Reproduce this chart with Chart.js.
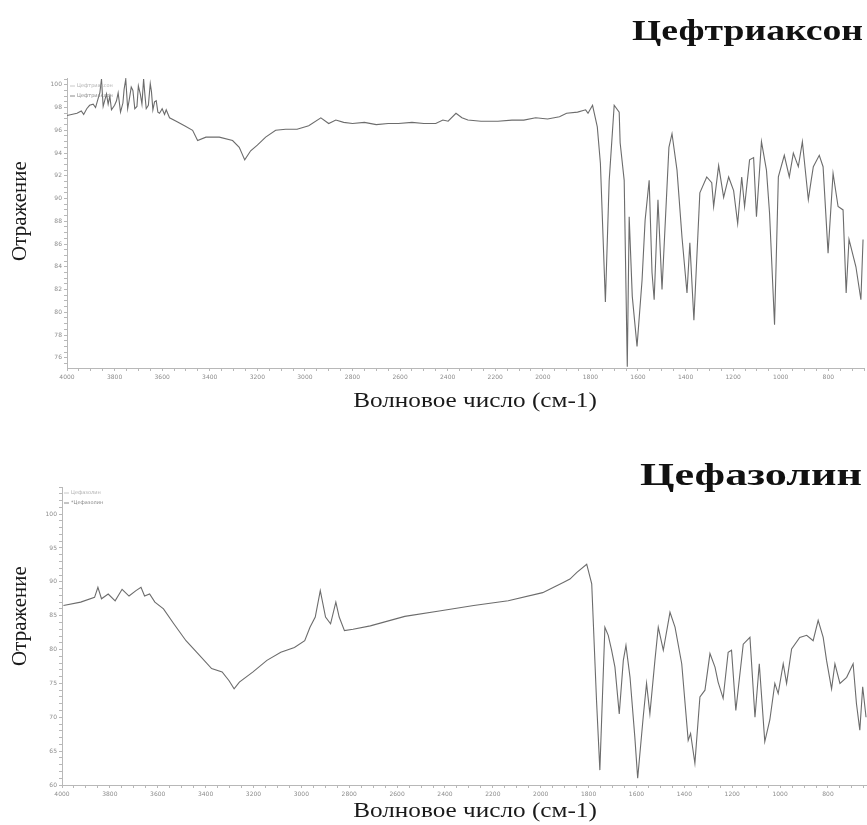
<!DOCTYPE html>
<html>
<head>
<meta charset="utf-8">
<script src="https://cdn.jsdelivr.net/npm/chart.js@4.4.1/dist/chart.umd.min.js"></script>
<style>
  body { margin: 0; background: #fff; width: 867px; height: 825px; overflow: hidden; position: relative; }
  .box { position: absolute; left: 0; width: 867px; }
</style>
</head>
<body>
<div class="box" style="top:0;height:412px"><canvas id="topChart" width="867" height="412"></canvas></div>
<div class="box" style="top:412px;height:413px"><canvas id="bottomChart" width="867" height="413"></canvas></div>
<script>
// ---- data ----
const xTickLabels = [4000, 3800, 3600, 3400, 3200, 3000, 2800, 2600, 2400, 2200, 2000, 1800, 1600, 1400, 1200, 1000, 800];
const ceftriaxoneTicks = [76, 78, 80, 82, 84, 86, 88, 90, 92, 94, 96, 98, 100];
const cefazolinTicks = [60, 65, 70, 75, 80, 85, 90, 95, 100];

const ceftriaxoneWn = [4000, 3958, 3940, 3930, 3917, 3905, 3890, 3880, 3869, 3862,
  3855, 3848, 3834, 3827, 3820, 3813, 3800, 3792, 3785, 3775,
  3765, 3760, 3753, 3745, 3739, 3730, 3723, 3715, 3706, 3700,
  3692, 3685, 3678, 3672, 3667, 3658, 3650, 3645, 3639, 3632,
  3625, 3618, 3611, 3600, 3590, 3583, 3569, 3541, 3506, 3472,
  3451, 3416, 3360, 3304, 3276, 3253, 3228, 3200, 3165, 3123,
  3081, 3033, 2984, 2933, 2900, 2870, 2837, 2800, 2750, 2700,
  2650, 2607, 2550, 2500, 2450, 2420, 2398, 2365, 2340, 2315,
  2260, 2189, 2130, 2080, 2030, 1980, 1930, 1900, 1854, 1820,
  1810, 1791,
  1771, 1758, 1737, 1721, 1700, 1679, 1675, 1658, 1645, 1637, 1624, 1604, 1583, 1570, 1553, 1541, 1532, 1516, 1499,
  1470, 1457, 1436, 1415, 1394, 1382, 1365, 1340, 1311, 1290, 1282, 1261, 1240, 1219, 1198, 1181, 1164, 1152, 1131,
  1114, 1102, 1081, 1060, 1047, 1026, 1010, 985, 964, 947, 926, 909, 884, 872, 863, 838, 822, 801, 780, 759, 738,
  725, 713, 684, 663, 654];
const ceftriaxoneR = [97.3, 97.5, 97.7, 97.4, 97.9, 98.2, 98.3, 98.0, 98.8, 99.3,
  100.5, 98.1, 99.2, 98.3, 99.0, 97.8, 98.2, 98.6, 99.3, 97.6,
  98.4, 99.6, 100.5, 97.9, 98.6, 99.8, 99.5, 97.9, 98.1, 99.9,
  99.2, 98.3, 100.5, 99.0, 97.9, 98.2, 100.1, 99.4, 97.8, 98.5,
  98.6, 97.6, 97.5, 97.9, 97.4, 97.8, 97.1, 96.8, 96.4, 96.0,
  95.1, 95.4, 95.4, 95.1, 94.5, 93.4, 94.2, 94.7, 95.4, 96.0,
  96.1, 96.1, 96.4, 97.1, 96.6, 96.9, 96.7, 96.6, 96.7, 96.5,
  96.6, 96.6, 96.7, 96.6, 96.6, 96.9, 96.8, 97.5, 97.1, 96.9,
  96.8, 96.8, 96.9, 96.9, 97.1, 97.0, 97.2, 97.5, 97.6, 97.8,
  97.5, 98.2,
  96.3, 93.1, 80.9, 91.6, 98.2, 97.6, 94.9, 91.6, 75.2, 88.4, 81.4, 77.0, 82.8, 88.1, 91.6, 83.5, 81.1, 89.9, 82.0,
  94.5, 95.7, 92.5, 86.6, 81.7, 86.1, 79.3, 90.5, 91.9, 91.4, 89.3, 92.9, 90.1, 91.9, 90.7, 87.8, 91.9, 89.3, 93.4,
  93.6, 88.4, 95.0, 92.5, 88.7, 78.9, 91.9, 93.8, 91.9, 94.0, 92.8, 95.0, 89.9, 91.6, 92.8, 93.8, 92.8, 85.2, 92.2,
  89.3, 89.0, 81.7, 86.4, 84.0, 81.1, 86.4];

const cefazolinWn = [3994, 3922, 3864, 3850, 3835, 3807, 3778, 3749, 3720, 3691, 3670, 3655, 3634, 3612, 3576, 3533,
  3482, 3432, 3375, 3331, 3302, 3281, 3259, 3202, 3144, 3086, 3029, 2986, 2964, 2942, 2921, 2899, 2878, 2856, 2842,
  2820, 2784, 2712, 2568, 2424, 2280, 2136, 1992, 1906, 1878, 1849, 1808, 1787, 1767, 1753, 1732, 1718, 1704, 1690,
  1672, 1655, 1644, 1627, 1607, 1595, 1572, 1558, 1544, 1523, 1509, 1488, 1460, 1439, 1411, 1384, 1374, 1356, 1335,
  1314, 1293, 1272, 1259, 1238, 1217, 1203, 1185, 1154, 1126, 1105, 1087, 1064, 1043, 1022, 1008, 987, 973, 952, 918,
  889, 862, 841, 820, 806, 785, 771, 750, 722, 695, 681, 667, 655, 641];
const cefazolinR = [86.5, 87.0, 87.7, 89.2, 87.5, 88.2, 87.2, 88.9, 87.9, 88.7, 89.2, 87.9, 88.2, 87.0, 86.0, 83.8,
  81.3, 79.4, 77.2, 76.7, 75.4, 74.2, 75.2, 76.7, 78.4, 79.6, 80.3, 81.3, 83.3, 84.8, 88.7, 84.8, 83.8, 87.0, 84.8,
  82.8, 83.0, 83.5, 84.9, 85.7, 86.5, 87.2, 88.4, 89.9, 90.4, 91.4, 92.6, 89.7, 72.5, 62.2, 83.3, 82.1, 79.9, 77.4,
  70.5, 78.4, 80.6, 75.9, 67.1, 61.0, 70.0, 75.0, 70.5, 78.4, 83.3, 79.9, 85.5, 83.3, 77.9, 66.6, 67.6, 63.2, 73.0,
  74.0, 79.4, 77.4, 75.2, 72.8, 79.6, 79.9, 71.0, 80.8, 81.8, 70.0, 77.9, 66.4, 69.6, 75.0, 73.5, 77.9, 75.0, 80.1, 81.8,
  82.1, 81.3, 84.3, 81.8, 78.4, 74.2, 77.9, 75.0, 75.9, 77.9, 72.0, 68.1, 74.5, 70.0];

// ---- drawing ----
const serif = '"Liberation Serif", "Times New Roman", serif';

// draws a text horizontally stretched by sx (the scan looks widened)
function stretchedText(ctx, text, font, x, y, align, sx, rot) {
  ctx.save();
  ctx.font = font;
  ctx.translate(x, y);
  if (rot) ctx.rotate(rot);
  ctx.scale(sx, 1);
  ctx.textAlign = align;
  ctx.textBaseline = 'middle';
  ctx.fillText(text, 0, 0);
  ctx.restore();
}

const headings = {
  id: 'headings',
  afterDraw(chart, args, o) {
    const ctx = chart.ctx;
    ctx.save();
    ctx.fillStyle = '#111';
    // title, fitted to the width it takes in the scan
    const tf = 'bold ' + o.size + 'px ' + serif;
    ctx.font = tf;
    const sx = o.w / ctx.measureText(o.text).width;
    stretchedText(ctx, o.text, tf, o.x, o.y, 'right', sx, 0);
    // axis titles
    ctx.fillStyle = '#1a1a1a';
    stretchedText(ctx, 'Волновое число (см-1)', '21px ' + serif, o.xtx, o.xty, 'center', 1.2, 0);
    stretchedText(ctx, 'Отражение', '21px ' + serif, 20, o.yty, 'center', 1, -Math.PI / 2);
    // tiny legend in the corner of the plot
    ctx.font = '5px "DejaVu Sans"';
    ctx.textAlign = 'left';
    ctx.textBaseline = 'middle';
    o.legend.forEach((lbl, i) => {
      const y = o.ly + i * 10;
      ctx.strokeStyle = i === 0 ? '#c8c8c8' : '#8a8a8a';
      ctx.lineWidth = 1;
      ctx.beginPath();
      ctx.moveTo(o.lx, y);
      ctx.lineTo(o.lx + 5, y);
      ctx.stroke();
      ctx.fillStyle = i === 0 ? '#b0b0b0' : '#8a8a8a';
      ctx.fillText(lbl, o.lx + 7, y);
    });
    ctx.restore();
  }
};

function minor(from, to, step) {
  const out = [];
  for (let v = from; v >= to - 1e-9; v -= step) out.push(Math.round(v * 100) / 100);
  return out;
}

function makeChart(id, wn, r, opt) {
  new Chart(document.getElementById(id), {
    type: 'line',
    data: {
      datasets: [{
        label: opt.name,
        data: wn.map((w, i) => ({ x: w, y: r[i] })),
        borderColor: '#6c6c6c',
        borderWidth: 1.1,
        pointRadius: 0,
        tension: 0
      }]
    },
    options: {
      responsive: false,
      animation: false,
      layout: { padding: { top: opt.top, left: 0, right: 0, bottom: 0 } },
      plugins: {
        legend: { display: false },
        tooltip: { enabled: false },
        headings: opt.head
      },
      scales: {
        x: {
          type: 'linear',
          reverse: true,
          min: opt.xMin,
          max: 4000,
          afterBuildTicks: s => { s.ticks = minor(4000, opt.xMin, 50).map(v => ({ value: v })); },
          afterFit: s => { s.height = opt.xH; },
          ticks: {
            autoSkip: false, maxRotation: 0, padding: 3,
            callback: v => xTickLabels.includes(v) ? String(v) : '',
            font: { family: 'DejaVu Sans', size: 6 }, color: '#8c8c8c'
          },
          grid: { drawOnChartArea: false, tickLength: 3, color: '#b8b8b8' },
          border: { color: '#b8b8b8' },
          title: { display: false }
        },
        y: {
          min: opt.yMin,
          max: opt.yMax,
          afterBuildTicks: s => { s.ticks = minor(opt.yTop, opt.yMin, opt.yStep).map(v => ({ value: v })); },
          afterFit: s => { s.width = opt.yW; },
          ticks: {
            autoSkip: false, padding: 2,
            callback: v => opt.yLabels.includes(v) ? String(v) : '',
            font: { family: 'DejaVu Sans', size: 6 }, color: '#8c8c8c'
          },
          grid: { drawOnChartArea: false, tickLength: 3, color: '#b8b8b8' },
          border: { color: '#b8b8b8' },
          title: { display: false }
        }
      }
    },
    plugins: [headings]
  });
}

makeChart('topChart', ceftriaxoneWn, ceftriaxoneR, {
  name: 'Цефтриаксон', top: 78, xMin: 650, xH: 44, yW: 67,
  yMin: 75.1, yMax: 100.6, yTop: 100.5, yStep: 0.5, yLabels: ceftriaxoneTicks,
  head: { text: 'Цефтриаксон', size: 30, x: 863, y: 32, w: 231, xtx: 475, xty: 401, yty: 211,
          lx: 70, ly: 86, legend: ['Цефтриаксон', 'Цефтриаксон'] }
});

makeChart('bottomChart', cefazolinWn, cefazolinR, {
  name: 'Цефазолин', top: 75, xMin: 637, xH: 40, yW: 62,
  yMin: 60, yMax: 104, yTop: 104, yStep: 1, yLabels: cefazolinTicks,
  head: { text: 'Цефазолин', size: 32, x: 862, y: 65, w: 222, xtx: 475, xty: 399, yty: 204,
          lx: 64, ly: 81, legend: ['Цефазолин', '*Цефазолин'] }
});
</script>
</body>
</html>
